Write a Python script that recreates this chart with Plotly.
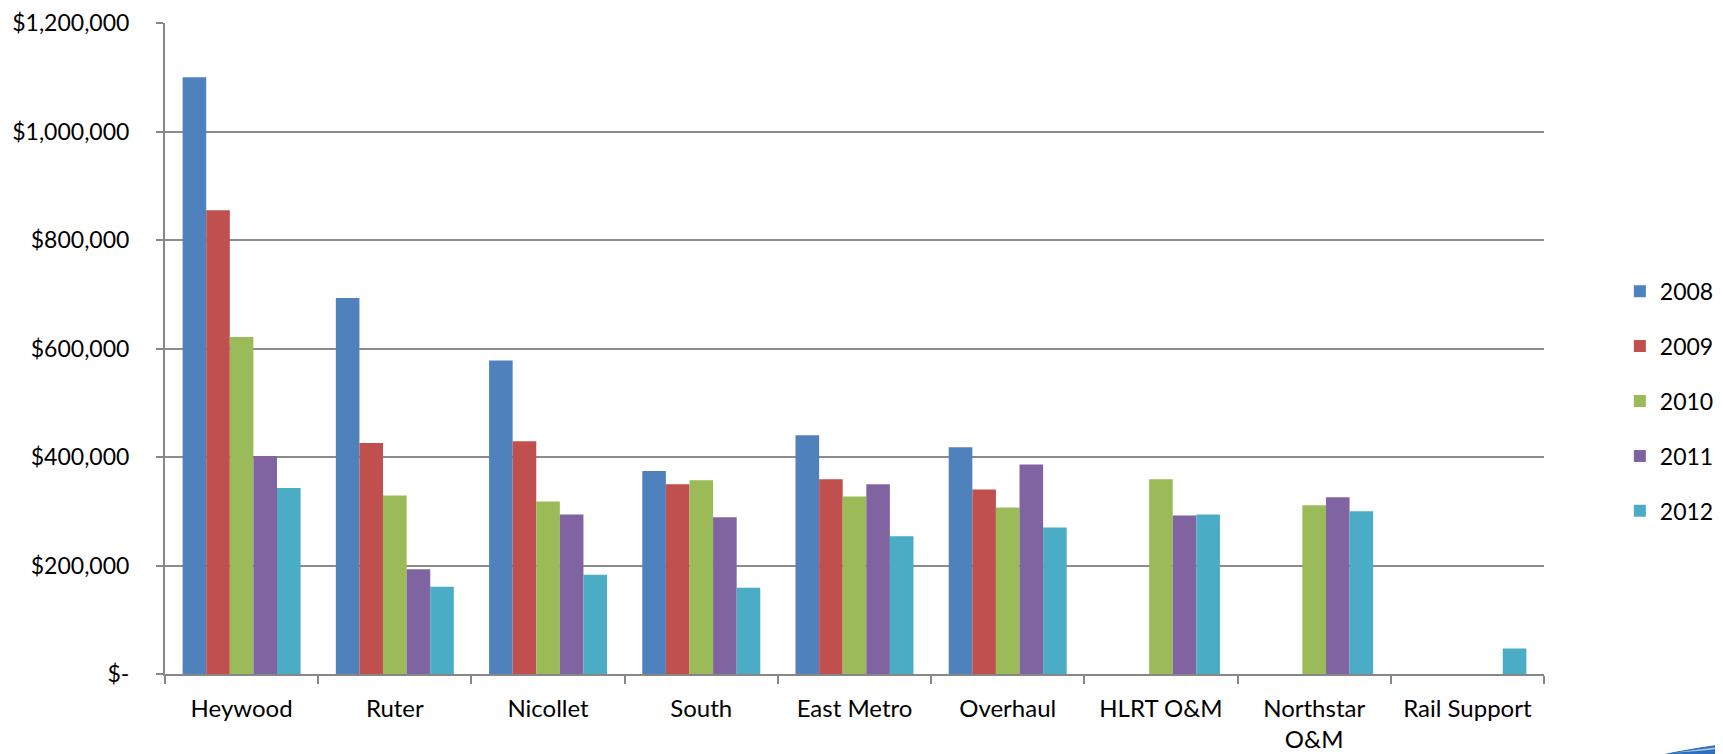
import plotly.graph_objects as go

categories = ["Heywood", "Ruter", "Nicollet", "South", "East Metro", "Overhaul",
              "HLRT O&amp;M", "Northstar<br>O&amp;M", "Rail Support"]
years = ["2008", "2009", "2010", "2011", "2012"]
v2008 = [1100000, 693000, 578000, 374000, 440000, 418000, None, None, None]
v2009 = [855000, 426000, 429000, 350000, 359000, 340000, None, None, None]
v2010 = [621000, 329000, 318000, 357000, 327000, 307000, 359000, 311000, None]
v2011 = [402000, 193000, 294000, 289000, 350000, 386000, 292000, 326000, None]
v2012 = [343000, 161000, 183000, 159000, 254000, 270000, 294000, 300000, 47000]
series = [v2008, v2009, v2010, v2011, v2012]
colors = ["#4F81BD", "#C0504D", "#9BBB59", "#8064A2", "#4BACC6"]
y_tickvals = [0, 200000, 400000, 600000, 800000, 1000000, 1200000]
y_ticktext = ["$-", "$200,000", "$400,000", "$600,000", "$800,000", "$1,000,000", "$1,200,000"]

FONT = "Lato, 'Liberation Sans', Arial, sans-serif"

fig = go.Figure()
for name, vals, col in zip(years, series, colors):
    fig.add_trace(go.Bar(x=categories, y=vals, name=name, legendgroup=name,
                         marker=dict(color=col, line=dict(width=0))))

fig.update_layout(
    width=1723, height=754,
    margin=dict(l=157, r=187, t=15, b=88, autoexpand=False),
    paper_bgcolor="white", plot_bgcolor="white",
    barmode="group", bargap=0.23, bargroupgap=0,
    font=dict(family=FONT, size=23, color="black"),
    showlegend=True,
    legend=dict(x=1.055, y=0.419, xanchor="left", yanchor="middle",
                font=dict(size=23, color="black"), tracegroupgap=22,
                itemwidth=30, bgcolor="rgba(0,0,0,0)"),
    xaxis=dict(showline=True, linecolor="#878787", linewidth=2,
               ticks="outside", tickson="boundaries", ticklen=8, tickcolor="#878787",
               tickwidth=2, showgrid=False, ticklabelstandoff=12,
               tickfont=dict(size=24, color="black")),
    yaxis=dict(range=[0, 1200000], tickvals=y_tickvals, ticktext=y_ticktext,
               showline=True, linecolor="#878787", linewidth=2,
               ticks="outside", ticklen=7, tickcolor="#878787", tickwidth=2,
               showgrid=True, gridcolor="#8c8c8c", gridwidth=2,
               zeroline=False, ticklabelstandoff=22,
               tickfont=dict(size=23, color="black")),
)

# decorative swoosh in the bottom-right corner of the slide
fig.add_shape(type="path", xref="paper", yref="paper", layer="above",
              path=("M 1.082 -0.126 L 1.096 -0.120 L 1.112 -0.114 "
                    "L 1.140 -0.105 L 1.140 -0.126 Z"),
              fillcolor="#2F6EBA", line=dict(color="#2F6EBA", width=1))
fig.add_shape(type="path", xref="paper", yref="paper", layer="above",
              path=("M 1.094 -0.121 L 1.112 -0.116 L 1.140 -0.109 "
                    "L 1.140 -0.112 L 1.114 -0.118 Z"),
              fillcolor="#A9C8EC", line=dict(width=0))

fig.write_html("out.html")
